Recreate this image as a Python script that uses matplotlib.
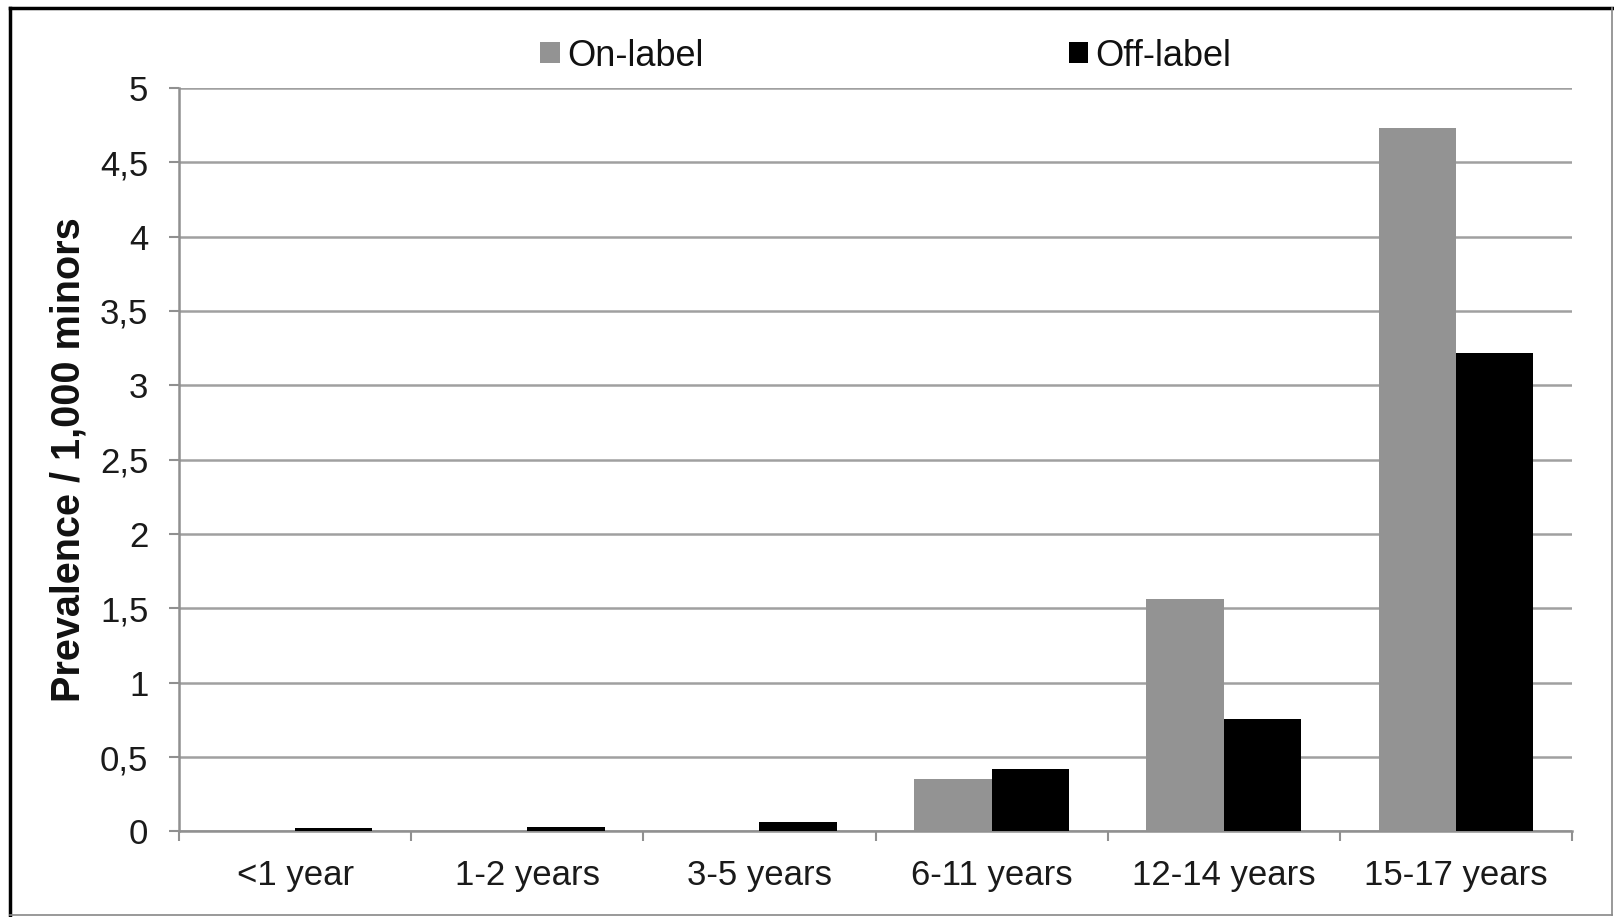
import matplotlib
matplotlib.use("Agg")
import matplotlib.pyplot as plt
from matplotlib.lines import Line2D
import numpy as np

categories = ["<1 year", "1-2 years", "3-5 years", "6-11 years", "12-14 years", "15-17 years"]
on_label = [0.0, 0.0, 0.0, 0.35, 1.56, 4.73]
off_label = [0.02, 0.03, 0.06, 0.42, 0.755, 3.22]
y_ticks = [0, 0.5, 1, 1.5, 2, 2.5, 3, 3.5, 4, 4.5, 5]
y_tick_labels = ["0", "0,5", "1", "1,5", "2", "2,5", "3", "3,5", "4", "4,5", "5"]

plt.rcParams['font.family'] = ['Liberation Sans', 'DejaVu Sans']

W, H = 1614, 917
fig = plt.figure(figsize=(W / 100, H / 100), dpi=100)
ax = fig.add_axes([179 / W, 1 - 831.4 / H, (1572 - 179) / W, (831.4 - 87.9) / H])

x = np.arange(len(categories))
bw = 1 / 3
b1 = ax.bar(x - bw / 2, on_label, width=bw, color="#939393", label="On-label", zorder=3)
b2 = ax.bar(x + bw / 2, off_label, width=bw, color="#000000", label="Off-label", zorder=3)

ax.set_xlim(-0.5, len(categories) - 0.5)
ax.set_ylim(0, 5)
ax.set_yticks(y_ticks)
ax.set_yticklabels(y_tick_labels, fontsize=25, color="#1a1a1a")
ax.set_xticks(x)
ax.set_xticklabels(categories, fontsize=25, color="#1a1a1a")
ax.tick_params(axis="x", length=0, pad=20)
ax.set_xticks(np.arange(len(categories) + 1) - 0.5, minor=True)
ax.tick_params(axis="x", which="minor", length=7, width=1.5, color="#909090", direction="out")
ax.tick_params(axis="y", length=7, width=1.5, color="#909090", direction="out", pad=15)

ax.yaxis.grid(True, color="#a0a0a0", linewidth=1.8, zorder=0)
ax.set_axisbelow(True)
for s in ["top", "right"]:
    ax.spines[s].set_visible(False)
for s in ["left", "bottom"]:
    ax.spines[s].set_color("#909090")
    ax.spines[s].set_linewidth(1.8)

ax.set_ylabel("Prevalence / 1,000 minors", fontsize=28.5, fontweight="bold", color="#111111", labelpad=9)

fig.legend(handles=[b1, b2], loc="center", bbox_to_anchor=(886 / W, 1 - 56 / H),
           ncol=2, frameon=False, fontsize=26, handlelength=0.53, handleheight=0.53,
           handletextpad=0.22, columnspacing=10.1, labelcolor="#111111")

# outer frame
fig.add_artist(Line2D([10 / W, 10 / W], [1 - 8 / H, 1 - 915 / H], transform=fig.transFigure, color="black", lw=2.5))
fig.add_artist(Line2D([10 / W, 1612 / W], [1 - 8 / H, 1 - 8 / H], transform=fig.transFigure, color="black", lw=2.5))
fig.add_artist(Line2D([1612 / W, 1612 / W], [1 - 8 / H, 1 - 915 / H], transform=fig.transFigure, color="#888888", lw=1.2))
fig.add_artist(Line2D([10 / W, 1612 / W], [1 - 915 / H, 1 - 915 / H], transform=fig.transFigure, color="#888888", lw=1.2))

fig.savefig("out.png", dpi=100)
